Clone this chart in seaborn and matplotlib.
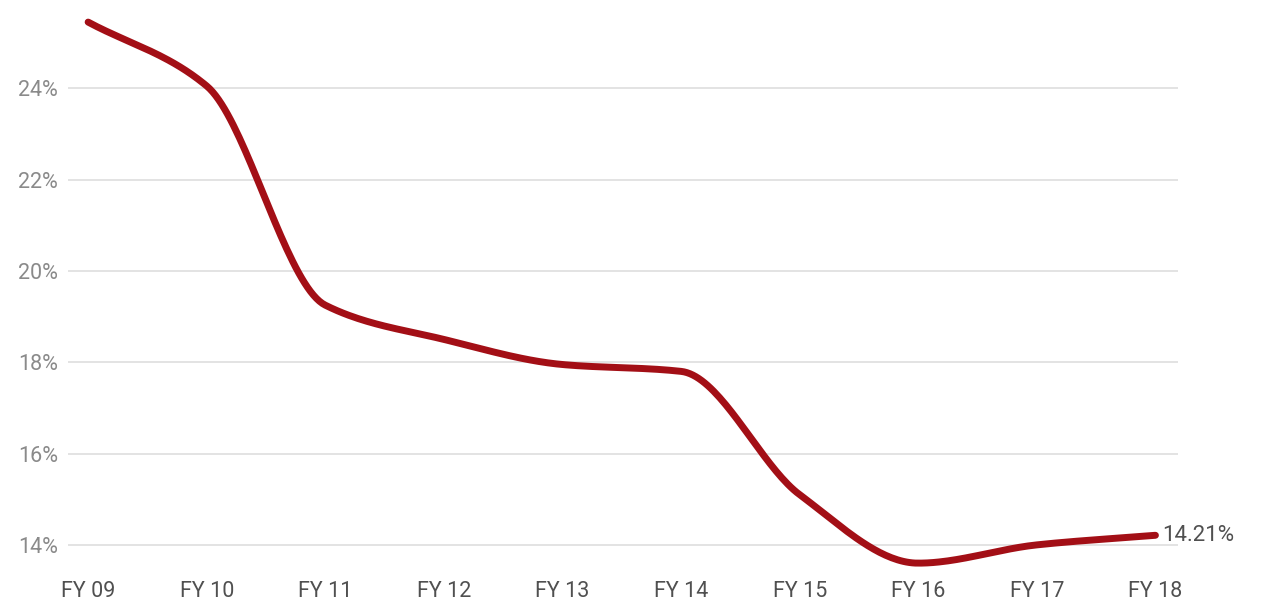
import numpy as np
import pandas as pd
import seaborn as sns
import matplotlib
matplotlib.use("Agg")
import matplotlib.pyplot as plt

years = ["FY 09", "FY 10", "FY 11", "FY 12", "FY 13", "FY 14", "FY 15", "FY 16", "FY 17", "FY 18"]
rate = [25.45, 24.05, 19.25, 18.5, 17.95, 17.8, 15.1, 13.6, 14.0, 14.21]
y_ticks = [14, 16, 18, 20, 22, 24]
end_label = "14.21%"


def pchip(x, y, n=40):
    # monotone cubic (Fritsch-Carlson) so the line is smooth like the original
    x = np.asarray(x, float)
    y = np.asarray(y, float)
    h = np.diff(x)
    d = np.diff(y) / h
    m = np.zeros_like(y)
    for i in range(1, len(y) - 1):
        if d[i - 1] * d[i] > 0:
            w1 = 2 * h[i] + h[i - 1]
            w2 = h[i] + 2 * h[i - 1]
            m[i] = (w1 + w2) / (w1 / d[i - 1] + w2 / d[i])
    m[0] = d[0]
    m[-1] = d[-1]
    xs, ys = [], []
    for i in range(len(x) - 1):
        t = np.linspace(0, 1, n, endpoint=(i == len(x) - 2))
        h00 = 2 * t**3 - 3 * t**2 + 1
        h10 = t**3 - 2 * t**2 + t
        h01 = -2 * t**3 + 3 * t**2
        h11 = t**3 - t**2
        xs.append(x[i] + t * h[i])
        ys.append(h00 * y[i] + h10 * h[i] * m[i] + h01 * y[i + 1] + h11 * h[i] * m[i + 1])
    return np.concatenate(xs), np.concatenate(ys)


sns.set_theme(style="white")
plt.rcParams["font.family"] = ["Roboto", "DejaVu Sans"]

xs, ys = pchip(np.arange(len(years)), rate)
df = pd.DataFrame({"x": xs, "y": ys})

fig = plt.figure(figsize=(12.68, 6.01), dpi=100)
ax = fig.add_axes([0.0536, 0.0516, 0.8754, 0.9314])

sns.lineplot(data=df, x="x", y="y", sort=False, estimator=None,
             color="#a30f16", linewidth=5, ax=ax, solid_capstyle="round")

ax.set_xlim(-0.17, 9.19)
ax.set_ylim(13.45, 25.71)
ax.set_yticks(y_ticks)
ax.set_yticklabels([f"{v}%" for v in y_ticks], color="#8a8a8a", fontsize=15.5)
ax.set_xticks(range(len(years)))
ax.set_xticklabels(years, color="#505050", fontsize=15.5)
ax.tick_params(axis="both", length=0)
ax.tick_params(axis="y", pad=7)
ax.tick_params(axis="x", pad=8)
ax.grid(axis="y", color="#e3e3e3", linewidth=1.4)
ax.set_axisbelow(True)
for s in ax.spines.values():
    s.set_visible(False)
ax.set_xlabel("")
ax.set_ylabel("")

ax.annotate(end_label, xy=(len(years) - 1, rate[-1]), xytext=(5, 0),
            textcoords="offset points", va="center", ha="left",
            fontsize=16, color="#505050", annotation_clip=False)

fig.savefig("out.png", dpi=100)
